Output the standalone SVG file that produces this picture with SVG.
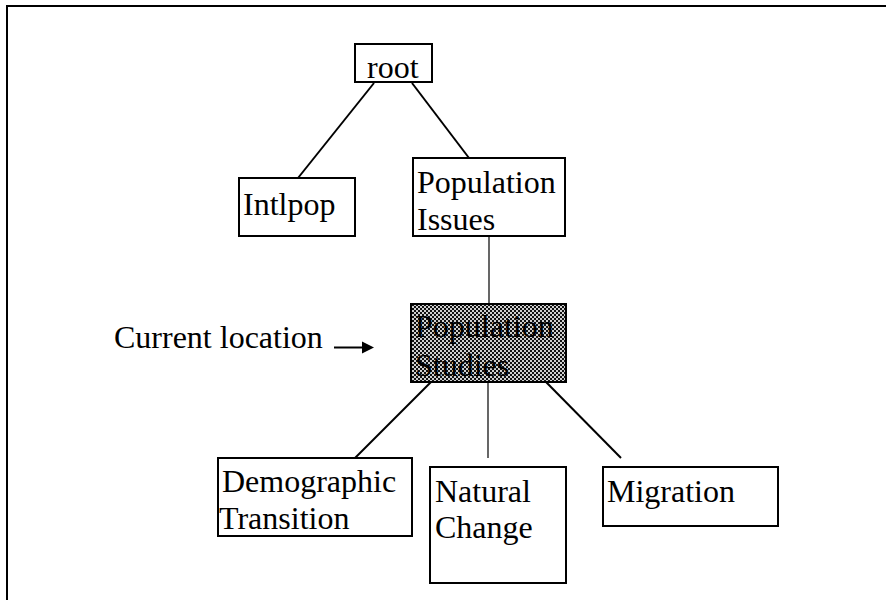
<svg xmlns="http://www.w3.org/2000/svg" width="886" height="600" viewBox="0 0 886 600">
<style>
.box{fill:#fff;stroke:#000;stroke-width:2}
.t{font-family:"Liberation Serif","Times New Roman",serif;font-size:32px;fill:#000}
.c{stroke:#000;stroke-width:2;fill:none}
.thin{stroke:#000;stroke-width:1.2;fill:none}
</style>
<defs>
<pattern id="dither" width="4" height="4" patternUnits="userSpaceOnUse">
<rect width="4" height="4" fill="#cfcfcf"/>
<rect x="0" y="0" width="2" height="2" fill="#111"/>
<rect x="2" y="2" width="2" height="2" fill="#111"/>
</pattern>
</defs>
<rect width="886" height="600" fill="#fff"/>
<path d="M7,600 V6 H886" fill="none" stroke="#000" stroke-width="2"/>

<g id="connectors">
<line class="c" x1="374" y1="83" x2="298" y2="178"/>
<line class="c" x1="412" y1="83" x2="469" y2="158"/>
<line class="thin" x1="489" y1="236" x2="489" y2="304"/>
<line class="c" x1="431" y1="382" x2="355" y2="458"/>
<line class="thin" x1="488" y1="382" x2="488" y2="458"/>
<line class="c" x1="546" y1="382" x2="621" y2="458"/>
</g>

<g id="root">
<rect class="box" x="355" y="44" width="77" height="38"/>
<text class="t" x="367" y="78">root</text>
</g>

<g id="intlpop">
<rect class="box" x="239" y="178" width="116" height="58"/>
<text class="t" x="243" y="215">Intlpop</text>
</g>

<g id="population-issues">
<rect class="box" x="413" y="158" width="152" height="78"/>
<text class="t" x="417" y="193">Population</text>
<text class="t" x="417" y="230">Issues</text>
</g>

<g id="current-location">
<text class="t" x="114" y="348">Current location</text>
<line x1="334" y1="347.5" x2="363" y2="347.5" stroke="#000" stroke-width="2"/>
<polygon points="362,341.5 374,347.5 362,353.5" fill="#000"/>
</g>

<g id="population-studies">
<rect x="411" y="304" width="155" height="78" fill="url(#dither)" stroke="#000" stroke-width="2"/>
<text class="t" x="415" y="337">Population</text>
<text class="t" x="415" y="376">Studies</text>
</g>

<g id="demographic-transition">
<rect class="box" x="218" y="458" width="194" height="78"/>
<text class="t" x="222" y="492">Demographic</text>
<text class="t" x="219" y="529">Transition</text>
</g>

<g id="natural-change">
<rect class="box" x="430" y="467" width="136" height="116"/>
<text class="t" x="435" y="502">Natural</text>
<text class="t" x="435" y="538">Change</text>
</g>

<g id="migration">
<rect class="box" x="603" y="467" width="175" height="59"/>
<text class="t" x="607" y="502">Migration</text>
</g>
</svg>
